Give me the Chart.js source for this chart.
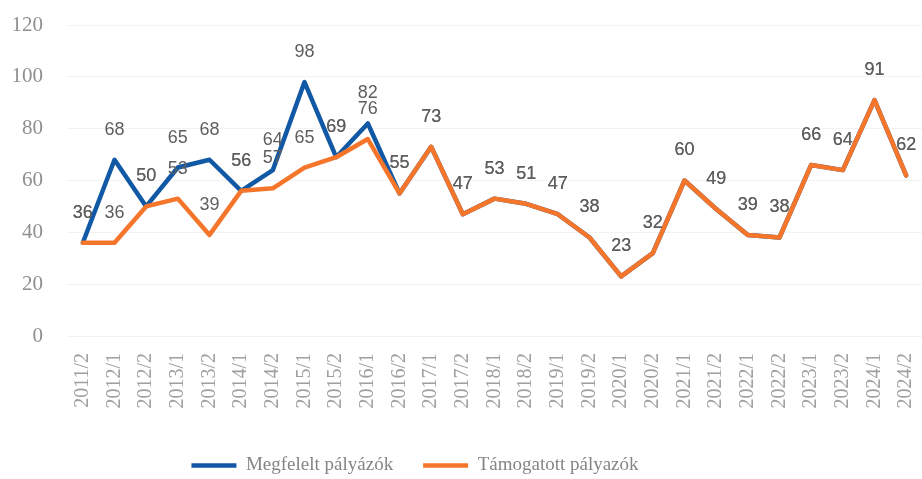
<!DOCTYPE html>
<html>
<head>
<meta charset="utf-8">
<script src="https://cdn.jsdelivr.net/npm/chart.js@4/dist/chart.umd.min.js"></script>
<style>
    html, body { margin: 0; padding: 0; background: #fff; }
</style>
</head>
<body>
<canvas id="myChart" width="922" height="479"></canvas>
<script>
const categories = [
    '2011/2', '2012/1', '2012/2', '2013/1', '2013/2', '2014/1', '2014/2', '2015/1', '2015/2',
    '2016/1', '2016/2', '2017/1', '2017/2', '2018/1', '2018/2', '2019/1', '2019/2', '2020/1',
    '2020/2', '2021/1', '2021/2', '2022/1', '2022/2', '2023/1', '2023/2', '2024/1', '2024/2'
];
const megfelelt = [36, 68, 50, 65, 68, 56, 64, 98, 69, 82, 55, 73, 47, 53, 51, 47, 38, 23, 32, 60, 49, 39, 38, 66, 64, 91, 62];
const tamogatott = [36, 36, 50, 53, 39, 56, 57, 65, 69, 76, 55, 73, 47, 53, 51, 47, 38, 23, 32, 60, 49, 39, 38, 66, 64, 91, 62];
const seriesNames = ['Megfelelt pályázók', 'Támogatott pályazók'];
const yMin = 0;
const yMax = 120;
const yStep = 20;

// numbers above every point
const valueLabels = {
    id: 'valueLabels',
    afterDatasetsDraw(chart) {
        const ctx = chart.ctx;
        ctx.save();
        ctx.font = '18px "Liberation Sans"';
        ctx.fillStyle = '#5e5e5e';
        ctx.textAlign = 'center';
        ctx.textBaseline = 'middle';
        chart.data.datasets.forEach((ds, i) => {
            chart.getDatasetMeta(i).data.forEach((pt, j) => {
                ctx.fillText(String(ds.data[j]), pt.x, pt.y - 30);
            });
        });
        ctx.restore();
    }
};

// legend sits a bit left of centre in the original
const legendShift = {
    id: 'legendShift',
    afterLayout(chart) {
        const lg = chart.legend;
        lg.left -= 46;
        lg.right -= 46;
        lg.top += 6;
        lg.bottom += 6;
    }
};

const ctx = document.getElementById('myChart').getContext('2d');
const myChart = new Chart(ctx, {
    type: 'line',
    data: {
        labels: categories,
        datasets: [{
            label: seriesNames[0],
            data: megfelelt,
            borderColor: '#1259a5',
            backgroundColor: '#1259a5',
            borderWidth: 4.5,
            borderCapStyle: 'round',
            borderJoinStyle: 'round',
            pointRadius: 0,
            tension: 0,
            order: 1
        }, {
            label: seriesNames[1],
            data: tamogatott,
            borderColor: '#f5762a',
            backgroundColor: '#f5762a',
            borderWidth: 4.5,
            borderCapStyle: 'round',
            borderJoinStyle: 'round',
            pointRadius: 0,
            tension: 0,
            order: 0
        }]
    },
    options: {
        responsive: false,
        animation: false,
        layout: { padding: { top: 25, left: 0, right: 0, bottom: 0 } },
        plugins: {
            tooltip: { enabled: false },
            legend: {
                position: 'bottom',
                labels: {
                    usePointStyle: true,
                    pointStyle: 'line',
                    pointStyleWidth: 45,
                    padding: 30,
                    color: '#858585',
                    font: { family: '"Liberation Serif"', size: 19 },
                    sort: (a, b) => a.datasetIndex - b.datasetIndex
                }
            }
        },
        scales: {
            x: {
                offset: true,
                grid: { display: false, drawTicks: false },
                border: { display: false },
                ticks: {
                    autoSkip: false,
                    minRotation: 90,
                    maxRotation: 90,
                    padding: 17,
                    color: '#a0a0a0',
                    font: { family: '"Liberation Serif"', size: 20 }
                },
                afterFit(scale) {
                    scale.height = 84;
                    scale.paddingLeft = 0;
                    scale.paddingRight = 0;
                }
            },
            y: {
                min: yMin,
                max: yMax,
                grid: { color: 'rgba(0,0,0,0.05)', drawTicks: false },
                border: { display: false },
                ticks: {
                    stepSize: yStep,
                    padding: 24,
                    color: '#8f8f8f',
                    font: { family: '"Liberation Serif"', size: 21 }
                },
                afterFit(scale) {
                    scale.width = 67;
                    scale.paddingTop = 0;
                    scale.paddingBottom = 0;
                }
            }
        }
    },
    plugins: [valueLabels, legendShift]
});
</script>
</body>
</html>
